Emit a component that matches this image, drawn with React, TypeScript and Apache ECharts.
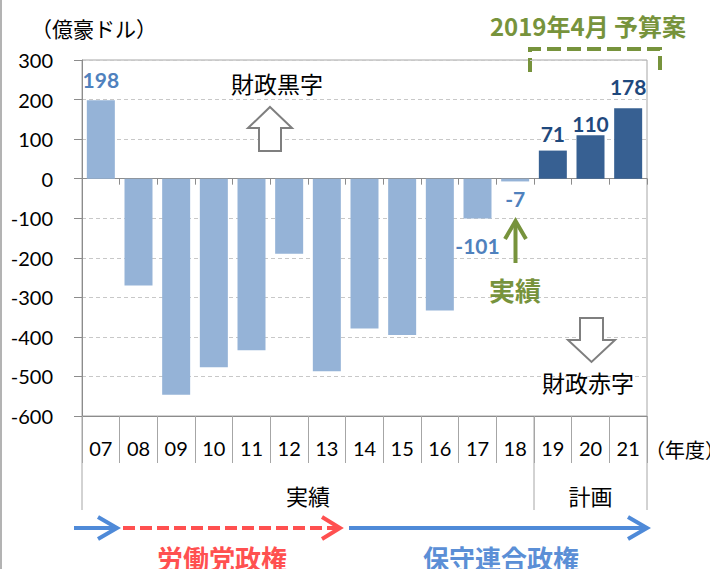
import React, { useEffect, useRef } from "react";
import * as echarts from "echarts";

const categories = ["07", "08", "09", "10", "11", "12", "13", "14", "15", "16", "17", "18", "19", "20", "21"];
const balance = [198, -270, -546, -477, -434, -190, -487, -379, -395, -333, -101, -7, 71, 110, 178];
const planFrom = 12; // index of "19": budget plan years start here
const labeledIdx = [0, 10, 11, 12, 13, 14];
const yMin = -600;
const yMax = 300;
const yStep = 100;

const CJK = '"Noto Sans CJK JP", "Noto Sans CJK SC", sans-serif';
const NUM = 'Lato, "Noto Sans", sans-serif';

const G = { left: 82, right: 63, top: 60, bottom: 153 };
const W = 710;
const H = 569;

const labelCfg: Record<number, { pos: string; dist: number }> = {
  0: { pos: "top", dist: 10 },
  10: { pos: "bottom", dist: 16 },
  11: { pos: "bottom", dist: 7 },
  12: { pos: "top", dist: 7 },
  13: { pos: "top", dist: 1 },
  14: { pos: "top", dist: 11 },
};

export default function App() {
  const ref = useRef<HTMLDivElement>(null);
  useEffect(() => {
    document.body.style.margin = "0";
    const chart = echarts.init(ref.current!, null, { renderer: "svg" });
    const plotL = G.left;
    const plotR = W - G.right;
    const plotB = H - G.bottom;
    const cw = (plotR - plotL) / categories.length;
    const xSplit = plotL + planFrom * cw;

    const data = balance.map((v, i) => {
      const plan = i >= planFrom;
      const show = labeledIdx.includes(i);
      const cfg = labelCfg[i];
      return {
        value: v,
        itemStyle: { color: plan ? "#376092" : "#95B3D7" },
        label: show
          ? {
              show: true,
              position: cfg.pos,
              distance: cfg.dist,
              color: plan ? "#1F497D" : "#4F81BD",
              fontFamily: NUM,
              fontWeight: "bold",
              fontSize: 21,
            }
          : { show: false },
      };
    });

    const gray = "#8c8c8c";
    const green = "#77933C";
    const red = "#FF5050";
    const blue = "#4F8AD8";

    const txt = (text: string, x: number, y: number, size: number, fill = "#000", weight = "normal", align = "center") => ({
      type: "text",
      style: { text, x, y, fill, fontSize: size, fontWeight: weight, fontFamily: CJK, align, verticalAlign: "middle" },
      z: 10,
    });

    chart.setOption({
      animation: false,
      grid: { ...G, containLabel: false, show: true, borderColor: "#a6a6a6", borderWidth: 1, backgroundColor: "transparent" },
      xAxis: [
        {
          type: "category",
          data: categories,
          position: "bottom",
          axisLine: { onZero: false, lineStyle: { color: gray, width: 1 } },
          axisTick: { show: true, length: 47, alignWithLabel: false, lineStyle: { color: "#a6a6a6" } },
          axisLabel: { margin: 22, color: "#000", fontFamily: NUM, fontSize: 20 },
          splitLine: { show: false },
        },
        {
          type: "category",
          data: categories,
          position: "bottom",
          axisLine: { onZero: true, lineStyle: { color: gray, width: 1 } },
          axisTick: { show: true, length: 6, lineStyle: { color: gray } },
          axisLabel: { show: false },
          splitLine: { show: false },
        },
      ],
      yAxis: {
        type: "value",
        min: yMin,
        max: yMax,
        interval: yStep,
        axisLine: { show: true, lineStyle: { color: gray, width: 1 } },
        axisTick: { show: true, length: 8, lineStyle: { color: gray } },
        axisLabel: { margin: 29, color: "#000", fontFamily: NUM, fontSize: 20 },
        splitLine: { show: true, lineStyle: { color: "#c8c8c8", type: [4, 3], width: 1 } },
      },
      series: [
        {
          type: "bar",
          xAxisIndex: 0,
          data,
          barWidth: 28,
        },
      ],
      graphic: [
        { type: "line", shape: { x1: 1, y1: 0, x2: 1, y2: H }, style: { stroke: "#9a9a9a", lineWidth: 1.5 } },
        ...[plotL, xSplit, plotR].map((x) => ({
          type: "line",
          shape: { x1: x, y1: plotB, x2: x, y2: 510 },
          style: { stroke: "#a6a6a6", lineWidth: 1 },
        })),
        txt("（億豪ドル）", 94, 28, 21),
        txt("2019年4月 予算案", 588, 25, 24, green, "bold"),
        {
          type: "polyline",
          shape: { points: [[530, 72], [530, 49], [660, 49], [660, 72]] },
          style: { stroke: green, lineWidth: 4, lineDash: [14, 6], fill: "none" },
        },
        txt("財政黒字", 277, 83, 23),
        {
          type: "polygon",
          shape: { points: [[270, 107], [292, 128], [281, 128], [281, 151], [259, 151], [259, 128], [248, 128]] },
          style: { fill: "#fff", stroke: "#7f7f7f", lineWidth: 2 },
          z: 10,
        },
        txt("財政赤字", 588, 382, 23),
        {
          type: "polygon",
          shape: { points: [[580, 318], [603, 318], [603, 340], [615, 340], [591.5, 362], [568, 340], [580, 340]] },
          style: { fill: "#fff", stroke: "#7f7f7f", lineWidth: 2 },
          z: 10,
        },
        txt("実績", 515, 289, 26, green, "bold"),
        { type: "line", shape: { x1: 515.5, y1: 263, x2: 515.5, y2: 222 }, style: { stroke: green, lineWidth: 4 }, z: 10 },
        {
          type: "polyline",
          shape: { points: [[505, 239], [515.5, 221], [526, 239]] },
          style: { stroke: green, lineWidth: 4, fill: "none", lineJoin: "miter" },
          z: 10,
        },
        txt("実績", (plotL + xSplit) / 2, 495, 22),
        txt("計画", (xSplit + plotR) / 2, 495, 22),
        txt("（年度）", 645, 449, 20, "#000", "normal", "left"),
        { type: "line", shape: { x1: 74, y1: 528, x2: 115, y2: 528 }, style: { stroke: blue, lineWidth: 4 } },
        { type: "polyline", shape: { points: [[98, 517], [117, 528], [98, 539]] }, style: { stroke: blue, lineWidth: 4, fill: "none" } },
        { type: "line", shape: { x1: 123, y1: 528, x2: 338, y2: 528 }, style: { stroke: red, lineWidth: 4, lineDash: [12, 5] } },
        { type: "polyline", shape: { points: [[322, 517], [340, 528], [322, 539]] }, style: { stroke: red, lineWidth: 4, fill: "none" } },
        { type: "line", shape: { x1: 349, y1: 528, x2: 645, y2: 528 }, style: { stroke: blue, lineWidth: 4 } },
        { type: "polyline", shape: { points: [[628, 517], [647, 528], [628, 539]] }, style: { stroke: blue, lineWidth: 4, fill: "none" } },
        txt("労働党政権", 222, 557, 26, red, "bold"),
        txt("保守連合政権", 501, 557, 26, "#5B8FD6", "bold"),
      ],
    });
    return () => chart.dispose();
  }, []);
  return <div ref={ref} style={{ width: W, height: H, position: "absolute", left: 0, top: 0, background: "#fff" }} />;
}
